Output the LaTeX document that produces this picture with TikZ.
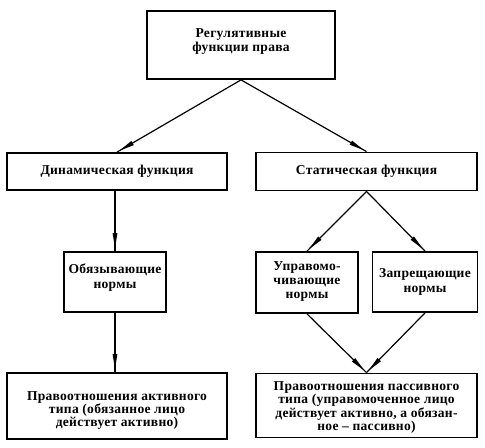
\documentclass[tikz,border=0pt]{standalone}
\usepackage{fontspec}
\setmainfont{Liberation Serif}[LetterSpace=2]
\usetikzlibrary{decorations.markings}
\begin{document}
\begin{tikzpicture}[x=1bp,y=-1bp,
  box/.style={draw,line width=1.8bp,rectangle,inner sep=0pt},
  txt/.style={inner sep=0pt,align=center,font=\fontsize{13.6}{13.2}\selectfont\bfseries},
  txtw/.style={txt,font=\fontsize{13.6}{14.5}\selectfont\bfseries},
  conn/.style={line width=1.2bp,postaction={decorate},
    decoration={markings,mark=at position -3bp with {\fill (0bp,0bp) -- (-15bp,2.4bp) -- (-15bp,-2.4bp) -- cycle;}}}]
\useasboundingbox (0,0) rectangle (485,448);
\node[box,minimum width=188bp,minimum height=68bp] (top) at (241,45) {};
\node[box,minimum width=220bp,minimum height=37bp] (dyn) at (117,171.5) {};
\node[box,minimum width=221bp,minimum height=38bp] (stat) at (366.5,171.5) {};
\node[box,minimum width=102bp,minimum height=60bp] (obyaz) at (115,282) {};
\node[box,minimum width=102bp,minimum height=61bp] (uprav) at (307,282.5) {};
\node[box,minimum width=105bp,minimum height=60bp] (zapr) at (425,282) {};
\node[box,minimum width=220bp,minimum height=66bp] (bl) at (117,406) {};
\node[box,minimum width=221bp,minimum height=64bp] (br) at (366.5,405.5) {};
\node[txtw] (toptext) at (241,41.5) {Регулятивные\\функции права};
\node[txt] (dyntext) at (117,171.5) {Динамическая функция};
\node[txt] (stattext) at (366.5,171.5) {Статическая функция};
\node[txtw] (obyaztext) at (115,277.5) {Обязывающие\\нормы};
\node[txtw] (upravtext) at (307,281.5) {Управомо-\\чивающие\\нормы};
\node[txtw] (zaprtext) at (425,282) {Запрещающие\\нормы};
\node[txt] (bltext) at (117,410.5) {Правоотношения активного\\типа (обязанное лицо\\действует активно)};
\node[txt] (brtext) at (366.5,407.5) {Правоотношения пассивного\\типа (управомоченное лицо\\действует активно, а обязан-\\ное -- пассивно)};
\draw[conn] (top.south) -- (dyn.north);
\draw[conn] (top.south) -- (stat.north);
\draw[conn] (obyaz.north |- dyn.south) -- (obyaz.north);
\draw[conn] (obyaz.south) -- (obyaz.south |- bl.north);
\draw[conn] (stat.south) -- (uprav.north);
\draw[conn] (stat.south) -- (zapr.north);
\draw[conn] (uprav.south) -- (br.north);
\draw[conn] (zapr.south) -- (br.north);
\end{tikzpicture}
\end{document}
